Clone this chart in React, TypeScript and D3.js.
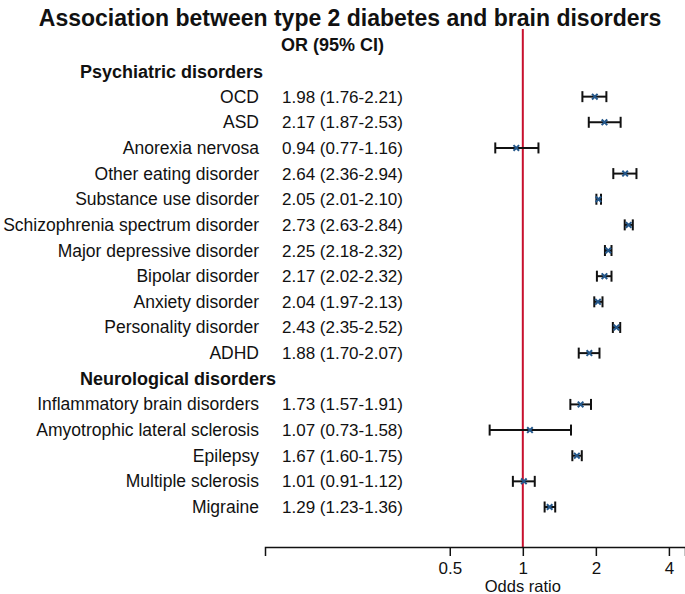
import React, { useRef, useEffect } from 'react';
import * as d3 from 'd3';

const title = 'Association between type 2 diabetes and brain disorders';

const groups = ['Psychiatric disorders', 'Neurological disorders'];

const psychLabels = [
  'OCD', 'ASD', 'Anorexia nervosa', 'Other eating disorder', 'Substance use disorder',
  'Schizophrenia spectrum disorder', 'Major depressive disorder', 'Bipolar disorder',
  'Anxiety disorder', 'Personality disorder', 'ADHD',
];
const psychOR = [1.98, 2.17, 0.94, 2.64, 2.05, 2.73, 2.25, 2.17, 2.04, 2.43, 1.88];
const psychLo = [1.76, 1.87, 0.77, 2.36, 2.01, 2.63, 2.18, 2.02, 1.97, 2.35, 1.70];
const psychHi = [2.21, 2.53, 1.16, 2.94, 2.10, 2.84, 2.32, 2.32, 2.13, 2.52, 2.07];

const neuroLabels = [
  'Inflammatory brain disorders', 'Amyotrophic lateral sclerosis', 'Epilepsy',
  'Multiple sclerosis', 'Migraine',
];
const neuroOR = [1.73, 1.07, 1.67, 1.01, 1.29];
const neuroLo = [1.57, 0.73, 1.60, 0.91, 1.23];
const neuroHi = [1.91, 1.58, 1.75, 1.12, 1.36];

const tickValues = [0.5, 1, 2, 4];

const W = 685;
const H = 594;

const App: React.FC = () => {
  const ref = useRef<SVGSVGElement | null>(null);

  useEffect(() => {
    if (!ref.current) return;
    const svg = d3.select(ref.current);
    svg.selectAll('*').remove();

    const font = 'Liberation Sans, Arial, Helvetica, sans-serif';

    // rows: group header, then items
    type Row = { label: string; header: boolean; or?: number; lo?: number; hi?: number };
    const rows: Row[] = [];
    rows.push({ label: groups[0], header: true });
    psychLabels.forEach((l, i) => rows.push({ label: l, header: false, or: psychOR[i], lo: psychLo[i], hi: psychHi[i] }));
    rows.push({ label: groups[1], header: true });
    neuroLabels.forEach((l, i) => rows.push({ label: l, header: false, or: neuroOR[i], lo: neuroLo[i], hi: neuroHi[i] }));

    const y = d3.scaleLinear().domain([0, rows.length - 1]).range([71, 507]);
    const x = d3.scaleLog().base(2).domain([0.0866, 4.66]).range([265, 685]);

    const axisY = 547;

    svg.append('text')
      .attr('x', 350).attr('y', 26)
      .attr('text-anchor', 'middle')
      .attr('font-family', font).attr('font-weight', 'bold').attr('font-size', 23)
      .attr('fill', '#111')
      .text(title);

    svg.append('text')
      .attr('x', 281).attr('y', y(-1) + 6)
      .attr('font-family', font).attr('font-weight', 'bold').attr('font-size', 18)
      .attr('fill', '#111')
      .text('OR (95% CI)');

    // reference line
    svg.append('line')
      .attr('x1', x(1)).attr('x2', x(1))
      .attr('y1', 29).attr('y2', axisY)
      .attr('stroke', '#c8102e').attr('stroke-width', 2);

    const g = svg.append('g');
    rows.forEach((r, i) => {
      const yy = y(i);
      if (r.header) {
        g.append('text')
          .attr('x', 80).attr('y', yy + 6.5)
          .attr('font-family', font).attr('font-weight', 'bold').attr('font-size', 18)
          .attr('fill', '#111')
          .text(r.label);
        return;
      }
      g.append('text')
        .attr('x', 259).attr('y', yy + 6)
        .attr('text-anchor', 'end')
        .attr('font-family', font).attr('font-size', 17.5)
        .attr('fill', '#111')
        .text(r.label);
      g.append('text')
        .attr('x', 282).attr('y', yy + 6)
        .attr('font-family', font).attr('font-size', 17)
        .attr('fill', '#111')
        .text(`${r.or!.toFixed(2)} (${r.lo!.toFixed(2)}-${r.hi!.toFixed(2)})`);
      const x0 = x(r.lo!);
      const x1 = x(r.hi!);
      g.append('line')
        .attr('x1', x0).attr('x2', x1).attr('y1', yy).attr('y2', yy)
        .attr('stroke', '#111').attr('stroke-width', 2);
      [x0, x1].forEach(cx => {
        g.append('line')
          .attr('x1', cx).attr('x2', cx).attr('y1', yy - 5.5).attr('y2', yy + 5.5)
          .attr('stroke', '#111').attr('stroke-width', 2);
      });
      g.append('path')
        .attr('d', d3.symbol().type(d3.symbolX).size(22)() as string)
        .attr('transform', `translate(${x(r.or!)},${yy})`)
        .attr('stroke', '#24578a').attr('stroke-width', 2).attr('fill', 'none');
    });

    const axis = d3.axisBottom(x)
      .tickValues(tickValues)
      .tickFormat(d => String(d))
      .tickSizeOuter(0)
      .tickSize(9)
      .tickPadding(6);

    const ax = svg.append('g')
      .attr('transform', `translate(0,${axisY})`)
      .call(axis);
    ax.select('.domain').attr('stroke', '#111').attr('stroke-width', 1.5);
    ax.selectAll('.tick line').attr('stroke', '#111').attr('stroke-width', 1.5);
    ax.selectAll('.tick text')
      .attr('font-family', font).attr('font-size', 17).attr('fill', '#111');

    svg.append('text')
      .attr('x', x(1)).attr('y', 592)
      .attr('text-anchor', 'middle')
      .attr('font-family', font).attr('font-size', 16.5)
      .attr('fill', '#111')
      .text('Odds ratio');
  }, []);

  return <svg ref={ref} width={W} height={H} style={{ display: 'block', position: 'absolute', left: 0, top: 0 }} />;
};

export default App;
